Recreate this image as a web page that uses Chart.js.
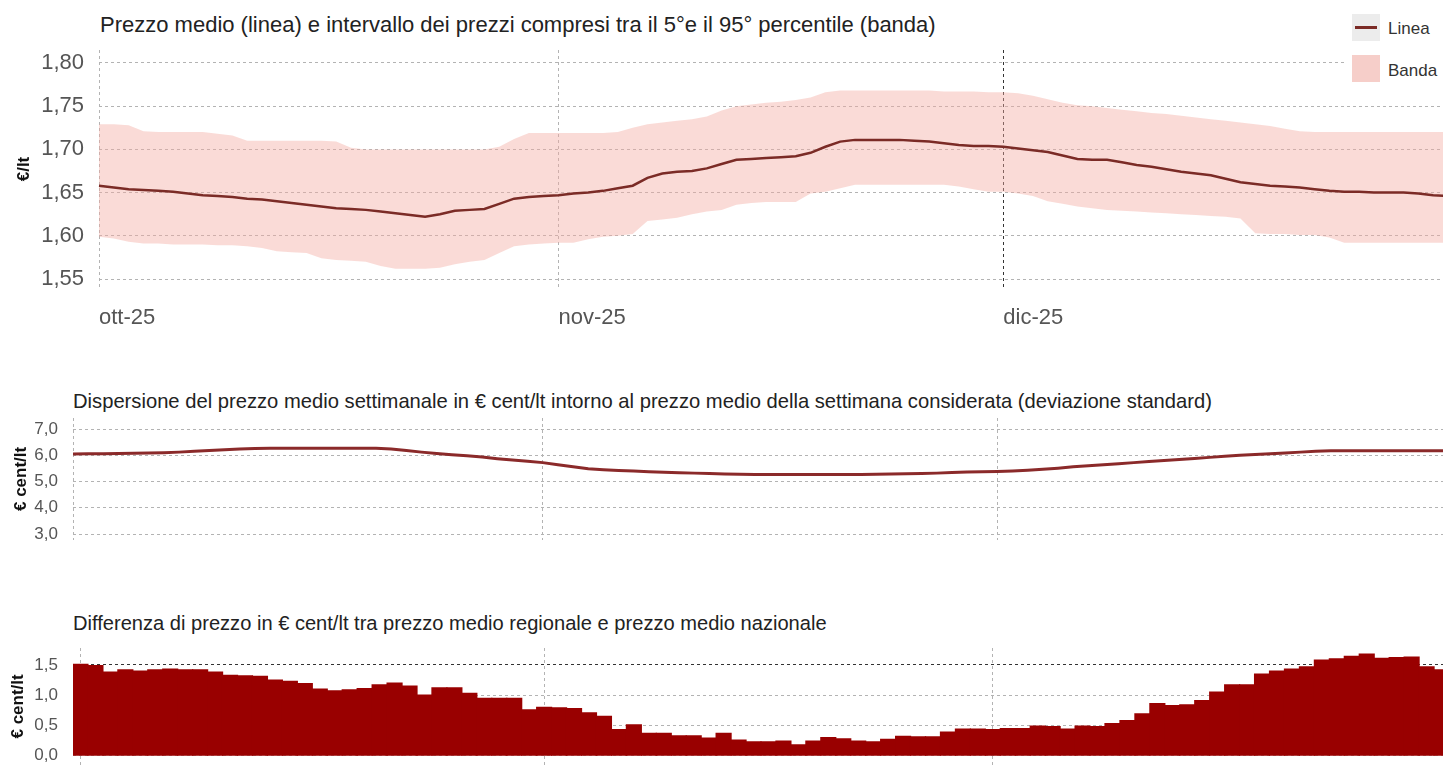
<!DOCTYPE html>
<html lang="it">
<head>
<meta charset="utf-8">
<title>Prezzi medi carburante - ott/dic 2025</title>
<script src="https://cdn.jsdelivr.net/npm/chart.js@4.4.1/dist/chart.umd.min.js"></script>
<style>
    html, body { margin: 0; padding: 0; background: #fff; overflow: hidden; }
    body { position: relative; width: 1443px; height: 778px; font-family: "Liberation Sans", Arial, sans-serif; }
    .box { position: absolute; left: 0; }
    .titolo { position: absolute; color: #222; white-space: nowrap; line-height: 1; }
    .legenda { position: absolute; left: 1345px; top: 6px; width: 110px; height: 86px; background: #fff; }
    .leg-chip { position: absolute; left: 7px; width: 28px; height: 27px; }
    .leg-txt { position: absolute; left: 43px; font-size: 17px; line-height: 1; color: #333; }
</style>
</head>
<body>

<div class="titolo" style="left:100px; top:14px; font-size:22px">Prezzo medio (linea) e intervallo dei prezzi compresi tra il 5°e il 95° percentile (banda)</div>
<div class="box" style="top:0"><canvas id="chartPrezzo" width="1448" height="340" style="width:1448px;height:340px"></canvas></div>

<div class="legenda">
    <div class="leg-chip" style="top:8px; background:#ececec">
        <div style="position:absolute; left:3px; right:3px; top:12px; height:3px; background:#7b2b26"></div>
    </div>
    <div class="leg-txt" style="top:14px">Linea</div>
    <div class="leg-chip" style="top:49px; background:#f6cec9"></div>
    <div class="leg-txt" style="top:56px">Banda</div>
</div>

<div class="titolo" style="left:73px; top:391px; font-size:20.2px">Dispersione del prezzo medio settimanale in € cent/lt intorno al prezzo medio della settimana considerata (deviazione standard)</div>
<div class="box" style="top:370px"><canvas id="chartDispersione" width="1452" height="195" style="width:1452px;height:195px"></canvas></div>

<div class="titolo" style="left:73px; top:613px; font-size:20.1px">Differenza di prezzo in € cent/lt tra prezzo medio regionale e prezzo medio nazionale</div>
<div class="box" style="top:600px"><canvas id="chartDifferenza" width="1449" height="190" style="width:1449px;height:190px"></canvas></div>

<script>
/* ============================
   DATI (un valore al giorno, 1 ott - 31 dic 2025)
============================ */
const MESI = ["ott-25", "nov-25", "dic-25"];
const INIZIO_MESE = [0, 31, 61];

const prezzoMedio = [
    1.658, 1.656, 1.654, 1.653, 1.652, 1.651, 1.649, 1.647, 1.646, 1.645,
    1.643, 1.642, 1.640, 1.638, 1.636, 1.634, 1.632, 1.631, 1.630, 1.628,
    1.626, 1.624, 1.622, 1.625, 1.629, 1.630, 1.631, 1.637, 1.643, 1.645,
    1.646, 1.647, 1.649, 1.650, 1.652, 1.655, 1.658, 1.667, 1.672, 1.674,
    1.675, 1.678, 1.683, 1.688, 1.689, 1.690, 1.691, 1.692, 1.696, 1.703,
    1.709, 1.711, 1.711, 1.711, 1.711, 1.710, 1.709, 1.707, 1.705, 1.704,
    1.704, 1.703, 1.701, 1.699, 1.697, 1.693, 1.689, 1.688, 1.688, 1.685,
    1.682, 1.680, 1.677, 1.674, 1.672, 1.670, 1.666, 1.662, 1.660, 1.658,
    1.657, 1.656, 1.654, 1.652, 1.651, 1.651, 1.650, 1.650, 1.650, 1.649,
    1.647, 1.646
];

// 5° percentile
const banda5 = [
    1.599, 1.597, 1.593, 1.591, 1.591, 1.590, 1.590, 1.590, 1.589, 1.589,
    1.588, 1.586, 1.582, 1.581, 1.580, 1.574, 1.572, 1.571, 1.570, 1.565,
    1.562, 1.562, 1.562, 1.563, 1.567, 1.570, 1.572, 1.580, 1.588, 1.590,
    1.591, 1.592, 1.592, 1.596, 1.599, 1.600, 1.602, 1.617, 1.619, 1.621,
    1.625, 1.628, 1.630, 1.636, 1.638, 1.639, 1.639, 1.639, 1.649, 1.651,
    1.655, 1.659, 1.659, 1.659, 1.659, 1.659, 1.659, 1.659, 1.657, 1.654,
    1.651, 1.651, 1.649, 1.646, 1.640, 1.637, 1.634, 1.632, 1.630, 1.629,
    1.628, 1.627, 1.626, 1.625, 1.624, 1.623, 1.622, 1.620, 1.603, 1.602,
    1.602, 1.601, 1.601, 1.598, 1.592, 1.592, 1.592, 1.592, 1.592, 1.592,
    1.592, 1.592
];

// 95° percentile
const banda95 = [
    1.729, 1.729, 1.728, 1.721, 1.720, 1.720, 1.720, 1.720, 1.718, 1.716,
    1.710, 1.710, 1.710, 1.710, 1.710, 1.710, 1.709, 1.702, 1.700, 1.700,
    1.700, 1.700, 1.700, 1.700, 1.700, 1.700, 1.700, 1.703, 1.712, 1.719,
    1.719, 1.719, 1.719, 1.719, 1.719, 1.720, 1.725, 1.729, 1.731, 1.733,
    1.735, 1.738, 1.745, 1.750, 1.752, 1.754, 1.755, 1.757, 1.760, 1.766,
    1.768, 1.768, 1.768, 1.768, 1.768, 1.768, 1.768, 1.767, 1.767, 1.767,
    1.766, 1.766, 1.765, 1.762, 1.758, 1.754, 1.751, 1.750, 1.748, 1.746,
    1.744, 1.742, 1.741, 1.739, 1.737, 1.735, 1.733, 1.731, 1.729, 1.727,
    1.724, 1.721, 1.720, 1.720, 1.720, 1.720, 1.720, 1.720, 1.720, 1.720,
    1.720, 1.720
];

// deviazione standard, € cent/lt
const dispersione = [
    6.05, 6.06, 6.06, 6.07, 6.08, 6.09, 6.10, 6.12, 6.15, 6.18,
    6.21, 6.24, 6.26, 6.27, 6.27, 6.27, 6.27, 6.27, 6.27, 6.27,
    6.27, 6.24, 6.18, 6.12, 6.07, 6.02, 5.98, 5.93, 5.87, 5.82,
    5.77, 5.72, 5.64, 5.56, 5.49, 5.45, 5.42, 5.40, 5.37, 5.35,
    5.33, 5.32, 5.31, 5.29, 5.28, 5.27, 5.27, 5.27, 5.27, 5.27,
    5.27, 5.27, 5.27, 5.28, 5.29, 5.30, 5.31, 5.32, 5.34, 5.36,
    5.37, 5.38, 5.40, 5.43, 5.47, 5.51, 5.56, 5.60, 5.64, 5.68,
    5.72, 5.76, 5.80, 5.84, 5.88, 5.92, 5.96, 6.00, 6.03, 6.06,
    6.09, 6.12, 6.15, 6.17, 6.17, 6.17, 6.17, 6.17, 6.17, 6.17,
    6.17, 6.17
];

// regionale - nazionale, € cent/lt
const differenza = [
    1.51, 1.49, 1.38, 1.42, 1.40, 1.42, 1.43, 1.42, 1.42, 1.38,
    1.33, 1.32, 1.31, 1.25, 1.23, 1.19, 1.10, 1.07, 1.09, 1.11,
    1.17, 1.20, 1.15, 1.00, 1.12, 1.12, 1.03, 0.95, 0.95, 0.95,
    0.76, 0.80, 0.79, 0.78, 0.71, 0.65, 0.43, 0.51, 0.37, 0.37,
    0.33, 0.33, 0.29, 0.37, 0.26, 0.23, 0.23, 0.24, 0.18, 0.24,
    0.30, 0.28, 0.24, 0.23, 0.27, 0.32, 0.31, 0.31, 0.39, 0.44,
    0.44, 0.43, 0.45, 0.45, 0.49, 0.48, 0.44, 0.49, 0.48, 0.53,
    0.58, 0.69, 0.86, 0.83, 0.84, 0.91, 1.05, 1.17, 1.17, 1.35,
    1.40, 1.43, 1.47, 1.58, 1.60, 1.64, 1.68, 1.61, 1.62, 1.63,
    1.47, 1.42
];

const tickPrezzo = [1.55, 1.60, 1.65, 1.70, 1.75, 1.80];
const tickDispersione = [3, 4, 5, 6, 7];
const tickDifferenza = [0, 0.5, 1, 1.5];

/* ============================
   STILE
============================ */
const GRIGIO = "#b3b3b3";
const SCURO = "#333";
const LINEA = "#7b2b26";
const ROSA = "rgba(244, 170, 160, 0.42)";
const ROSSO = "#990000";

Chart.defaults.font.family = '"Liberation Sans", Arial, sans-serif';
Chart.defaults.animation = false;

// etichette giorno per giorno (solo categorie, il grafico mostra i mesi)
const giorni = prezzoMedio.map((_, i) => {
    const d = new Date(2025, 9, 1 + i);
    return d.getDate() + "/" + (d.getMonth() + 1);
});

/* ============================
   HELPERS ASSI
============================ */
function asseX(o) {
    return {
        type: "category",
        offset: o.offset,
        border: { display: false, dash: [3, 3] },
        grid: {
            offset: false,
            drawTicks: false,
            color: ctx => {
                const k = INIZIO_MESE.indexOf(ctx.index);
                if (k < 0) return "rgba(0,0,0,0)";
                return o.coloriMese ? o.coloriMese[k] : GRIGIO;
            }
        },
        ticks: {
            autoSkip: false,
            maxRotation: 0,
            minRotation: 0,
            align: "start",
            padding: o.padding || 0,
            color: "#555",
            font: { size: 22 },
            callback: (v, i) => {
                const k = INIZIO_MESE.indexOf(i);
                return (o.etichette && k >= 0) ? MESI[k] : "";
            }
        },
        // altezza fissa e niente margini extra ai lati dell'area dati
        afterFit: s => {
            s.height = o.altezza;
            s.paddingLeft = 0;
            s.paddingRight = 0;
        }
    };
}

function asseY(o) {
    return {
        min: o.min,
        max: o.max,
        border: { display: false, dash: [3, 3] },
        grid: {
            drawTicks: false,
            color: ctx => (ctx.tick && ctx.tick.value === o.lineaScura) ? SCURO : GRIGIO
        },
        afterBuildTicks: s => { s.ticks = o.ticks.map(v => ({ value: v })); },
        afterFit: s => { s.width = o.larghezza; },
        ticks: {
            padding: o.padding,
            color: "#555",
            font: { size: o.size },
            callback: v => Number(v).toFixed(o.decimali).replace(".", ",")
        },
        title: {
            display: true,
            text: o.titolo,
            color: "#111",
            font: { size: o.sizeTitolo, weight: "bold" },
            padding: { top: o.padTitolo, bottom: 0 }
        }
    };
}

const nienteLegenda = {
    legend: { display: false },
    tooltip: { enabled: false }
};

/* ============================
   PREZZO MEDIO + BANDA
============================ */
new Chart(document.getElementById("chartPrezzo"), {
    type: "line",
    data: {
        labels: giorni,
        datasets: [
            { label: "p5", data: banda5, borderWidth: 0, pointRadius: 0, fill: false, order: 3 },
            { label: "Banda", data: banda95, borderWidth: 0, pointRadius: 0, fill: "-1",
              backgroundColor: ROSA, order: 2 },
            { label: "Linea", data: prezzoMedio, borderColor: LINEA, borderWidth: 2.5,
              pointRadius: 0, fill: false, order: 1 }
        ]
    },
    options: {
        responsive: false,
        layout: { padding: { top: 50, left: 0, right: 0, bottom: 0 } },
        plugins: nienteLegenda,
        scales: {
            x: asseX({ offset: false, etichette: true, padding: 17, altezza: 52,
                       coloriMese: [GRIGIO, GRIGIO, SCURO] }),
            y: asseY({ min: 1.5396, max: 1.815, ticks: tickPrezzo, decimali: 2,
                       larghezza: 99, padding: 15, size: 22,
                       titolo: "€/lt", sizeTitolo: 17, padTitolo: 14 })
        }
    }
});

/* ============================
   DISPERSIONE
============================ */
new Chart(document.getElementById("chartDispersione"), {
    type: "line",
    data: {
        labels: giorni,
        datasets: [
            { label: "Dispersione", data: dispersione, borderColor: "#8b2a2a", borderWidth: 3,
              pointRadius: 0, fill: false }
        ]
    },
    options: {
        responsive: false,
        layout: { padding: { top: 48, left: 0, right: 0, bottom: 0 } },
        plugins: nienteLegenda,
        scales: {
            x: asseX({ offset: false, altezza: 15 }),
            y: asseY({ min: 2.78, max: 7.42, ticks: tickDispersione, decimali: 1,
                       larghezza: 73, padding: 15, size: 17,
                       titolo: "€ cent/lt", sizeTitolo: 17, padTitolo: 11 })
        }
    }
});

/* ============================
   DIFFERENZA REGIONALE
============================ */
new Chart(document.getElementById("chartDifferenza"), {
    type: "bar",
    data: {
        labels: giorni,
        datasets: [
            { label: "Differenza", data: differenza, backgroundColor: ROSSO, borderWidth: 0,
              barPercentage: 1, categoryPercentage: 1, inflateAmount: 0.6 }
        ]
    },
    options: {
        responsive: false,
        layout: { padding: { top: 48, left: 0, right: 0, bottom: 0 } },
        plugins: nienteLegenda,
        scales: {
            x: asseX({ offset: true, altezza: 11 }),
            y: asseY({ min: -0.15, max: 1.78, ticks: tickDifferenza, decimali: 1,
                       larghezza: 73, padding: 15, size: 17, lineaScura: 1.5,
                       titolo: "€ cent/lt", sizeTitolo: 17, padTitolo: 8 })
        }
    }
});
</script>
</body>
</html>
